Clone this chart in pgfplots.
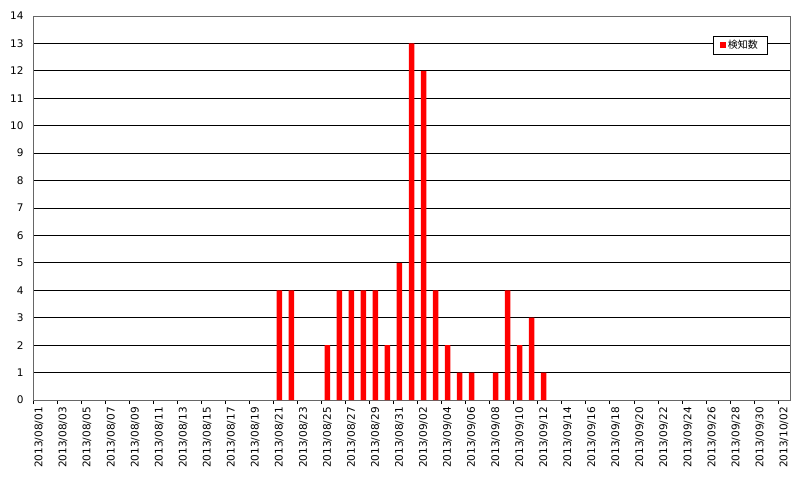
\documentclass[border=0pt]{standalone}
\usepackage{pgfplots}
\pgfplotsset{compat=1.18}
\usepackage{fontspec}
\setmainfont{DejaVu Sans}
\newfontfamily\cjk{Noto Sans CJK JP}
\begin{document}
\begin{tikzpicture}
\begin{axis}[
  /pgf/number format/assume math mode=true,
  scale only axis,
  width=757pt, height=384pt,
  xmin=-0.5, xmax=62.5,
  ymin=0, ymax=14,
  ytick={0,1,...,14},
  ymajorgrids,
  grid style={black, line width=0.8pt},
  axis line style={gray!80!black, line width=0.8pt},
  xtick={0,2,...,62},
  xticklabels={2013/08/01,2013/08/03,2013/08/05,2013/08/07,2013/08/09,2013/08/11,2013/08/13,2013/08/15,2013/08/17,2013/08/19,2013/08/21,2013/08/23,2013/08/25,2013/08/27,2013/08/29,2013/08/31,2013/09/02,2013/09/04,2013/09/06,2013/09/08,2013/09/10,2013/09/12,2013/09/14,2013/09/16,2013/09/18,2013/09/20,2013/09/22,2013/09/24,2013/09/26,2013/09/28,2013/09/30,2013/10/02},
  x tick label style={rotate=90, anchor=east, font=\fontsize{10.5}{11}\selectfont, inner sep=1pt},
  y tick label style={font=\fontsize{10.5}{11}\selectfont},
  major tick length=0pt,
  minor xtick={-0.5,1.5,...,62.5},
  minor tick length=4pt,
  tick align=outside,
  xtick pos=bottom, ytick pos=left,
  xticklabel shift=6pt,
  yticklabel shift=6pt,
  every minor tick/.style={black, line width=0.6pt},
  ybar, bar width=5.5pt,
  legend style={at={(0.970,0.948)}, anchor=north east, draw=black, line width=0.6pt, font=\cjk\fontsize{10}{11}\selectfont, inner xsep=7pt, inner ysep=2pt},
  legend image code/.code={\fill[red] (0pt,-3pt) rectangle (6pt,3pt);},
]
\addplot[fill=red, draw=none] coordinates {
(20,4) (21,4) (24,2) (25,4) (26,4) (27,4) (28,4) (29,2) (30,5) (31,13) (32,12) (33,4) (34,2) (35,1) (36,1) (38,1) (39,4) (40,2) (41,3) (42,1)
};
\addlegendentry{検知数}
\end{axis}
\path (current axis.south west) ++(-33pt,-93pt) coordinate (bl);
\path (current axis.north east) ++(10pt,16pt) coordinate (tr);
\path (bl) rectangle (tr);
\end{tikzpicture}
\end{document}
